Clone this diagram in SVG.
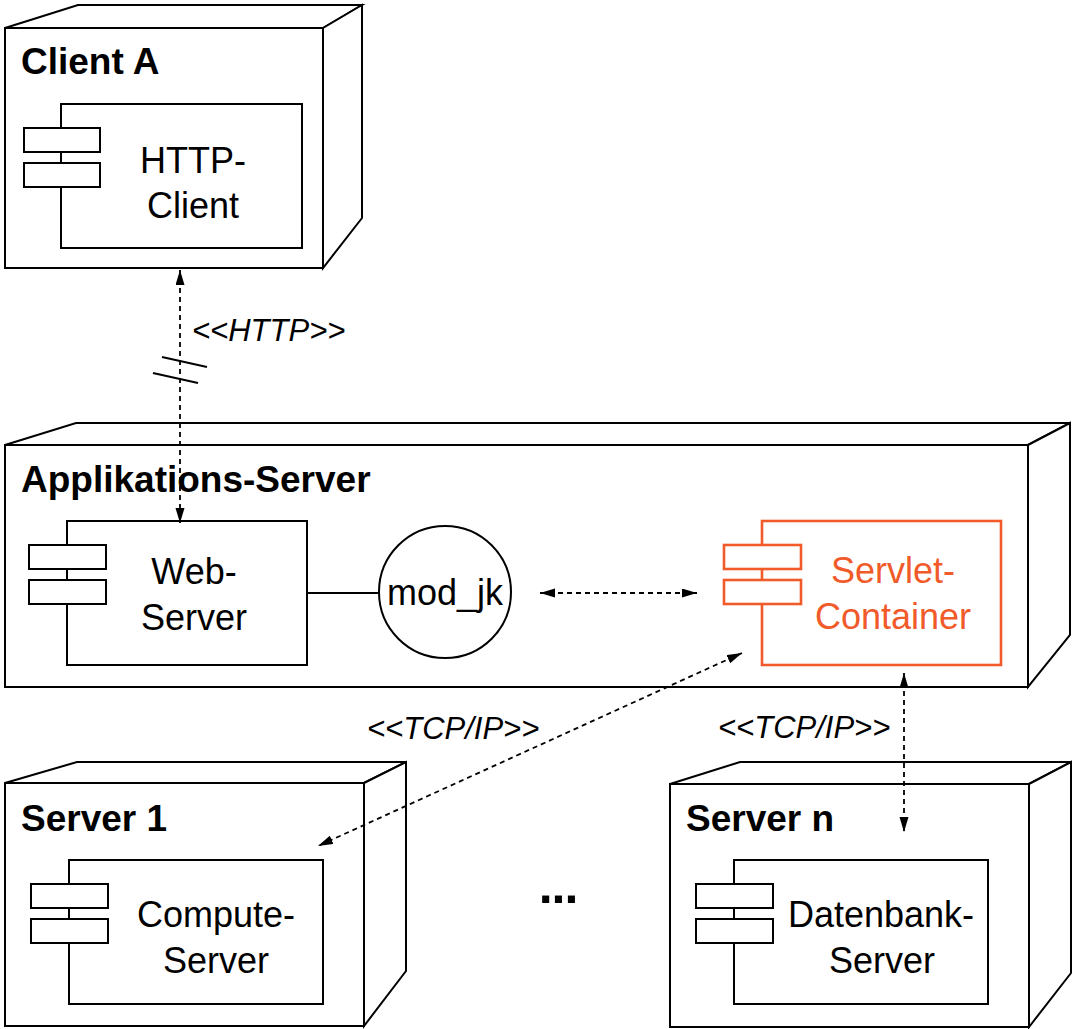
<svg xmlns="http://www.w3.org/2000/svg" width="1073" height="1029" viewBox="0 0 1073 1029">
<style>
.box{fill:#fff;stroke:#000;stroke-width:2;stroke-linejoin:miter}
.cmp{fill:#fff;stroke:#000;stroke-width:2}
.cmpo{fill:#fff;stroke:#F15A29;stroke-width:2.6}
.title{font-family:"Liberation Sans",Arial,sans-serif;font-weight:bold;font-size:37px;fill:#000}
.lbl{font-family:"Liberation Sans",Arial,sans-serif;font-size:36px;fill:#000;text-anchor:middle}
.lblo{font-family:"Liberation Sans",Arial,sans-serif;font-size:36px;fill:#F15A29;text-anchor:middle}
.ital{font-family:"Liberation Sans",Arial,sans-serif;font-style:italic;font-size:31px;fill:#000}
.dash{fill:none;stroke:#000;stroke-width:1.8;stroke-dasharray:5,4}
.solid{fill:none;stroke:#000;stroke-width:2}
</style>
<defs>
<marker id="arr" markerUnits="userSpaceOnUse" markerWidth="16" markerHeight="10" refX="15" refY="4.5" orient="auto-start-reverse">
<path d="M0,0 L15,4.5 L0,9 z" fill="#000"/>
</marker>
</defs>
<rect width="1073" height="1029" fill="#fff"/>

<g id="client-a">
<path class="box" d="M5,28 L78,5 L362,5 L323,28 Z"/>
<path class="box" d="M323,28 L362,5 L362,218 L323,268 Z"/>
<rect class="box" x="5" y="28" width="318" height="240"/>
<text class="title" x="21" y="74">Client A</text>
<g id="http-client">
<rect class="cmp" x="61" y="104" width="241" height="144"/>
<rect class="cmp" x="24" y="128" width="76" height="24"/>
<rect class="cmp" x="24" y="163" width="76" height="24"/>
<text class="lbl" x="193" y="173">HTTP-</text>
<text class="lbl" x="193" y="218">Client</text>
</g>
</g>

<g id="applikations-server">
<path class="box" d="M5,445 L76,423 L1070,423 L1028,445 Z"/>
<path class="box" d="M1028,445 L1070,423 L1070,635 L1028,687 Z"/>
<rect class="box" x="5" y="445" width="1023" height="242"/>
<text class="title" x="21" y="492">Applikations-Server</text>
<g id="web-server">
<rect class="cmp" x="67" y="521" width="240" height="144"/>
<rect class="cmp" x="29" y="545" width="77" height="24"/>
<rect class="cmp" x="29" y="580" width="77" height="24"/>
<text class="lbl" x="194" y="584">Web-</text>
<text class="lbl" x="194" y="630">Server</text>
</g>
<g id="mod-jk">
<circle class="solid" cx="445" cy="592" r="66" fill="#fff"/>
<text class="lbl" x="445" y="605">mod_jk</text>
</g>
<g id="servlet-container">
<rect class="cmpo" x="762" y="521" width="239" height="144"/>
<rect class="cmpo" x="724" y="545" width="77" height="24"/>
<rect class="cmpo" x="724" y="580" width="77" height="24"/>
<text class="lblo" x="893" y="583">Servlet-</text>
<text class="lblo" x="893" y="629">Container</text>
</g>
</g>

<g id="server-1">
<path class="box" d="M5,783 L77,762 L406,762 L364,783 Z"/>
<path class="box" d="M364,783 L406,762 L406,971 L364,1026 Z"/>
<rect class="box" x="5" y="783" width="359" height="243"/>
<text class="title" x="21" y="831">Server 1</text>
<g id="compute-server">
<rect class="cmp" x="69" y="860" width="254" height="144"/>
<rect class="cmp" x="31" y="884" width="77" height="24"/>
<rect class="cmp" x="31" y="919" width="77" height="24"/>
<text class="lbl" x="216" y="927">Compute-</text>
<text class="lbl" x="216" y="973">Server</text>
</g>
</g>

<g id="server-n">
<path class="box" d="M670,784 L740,762 L1071,762 L1029,784 Z"/>
<path class="box" d="M1029,784 L1071,762 L1071,973 L1029,1027 Z"/>
<rect class="box" x="670" y="784" width="359" height="243"/>
<text class="title" x="686" y="831">Server n</text>
<g id="datenbank-server">
<rect class="cmp" x="734" y="860" width="254" height="144"/>
<rect class="cmp" x="696" y="884" width="77" height="24"/>
<rect class="cmp" x="696" y="919" width="77" height="24"/>
<text class="lbl" x="881" y="927">Datenbank-</text>
<text class="lbl" x="882" y="973">Server</text>
</g>
</g>

<g id="ellipsis">
<text class="title" x="558" y="903" text-anchor="middle" style="font-size:50px;letter-spacing:-1px">...</text>
</g>

<g id="connectors">
<line class="solid" x1="307" y1="593" x2="379" y2="593"/>
<line class="dash" x1="180" y1="270" x2="180" y2="523" marker-start="url(#arr)" marker-end="url(#arr)"/>
<line class="solid" x1="162" y1="357" x2="207" y2="367"/>
<line class="solid" x1="153" y1="373" x2="198" y2="383"/>
<text class="ital" x="192" y="341">&lt;&lt;HTTP&gt;&gt;</text>
<line class="dash" x1="540" y1="593" x2="697" y2="593" marker-start="url(#arr)" marker-end="url(#arr)"/>
<line class="dash" x1="742" y1="653" x2="318" y2="846" marker-start="url(#arr)" marker-end="url(#arr)"/>
<text class="ital" x="367" y="739">&lt;&lt;TCP/IP&gt;&gt;</text>
<line class="dash" x1="904" y1="673" x2="904" y2="832" marker-start="url(#arr)" marker-end="url(#arr)"/>
<text class="ital" x="718" y="738">&lt;&lt;TCP/IP&gt;&gt;</text>
</g>
</svg>
